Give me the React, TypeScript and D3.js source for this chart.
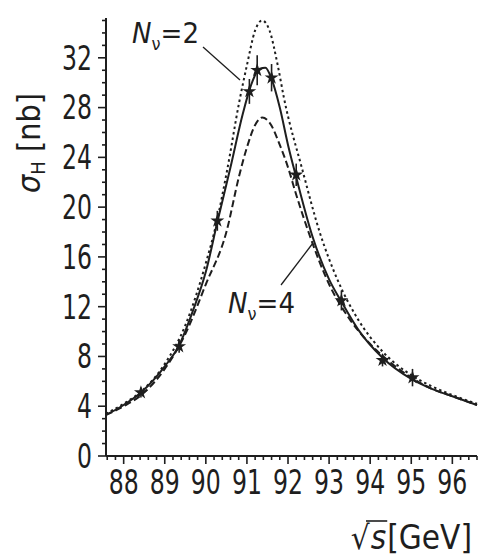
import React, { useEffect, useRef, useState } from "react";
import * as d3 from "d3";

// measured data points (sqrt(s) in GeV, sigma_H in nb)
const dataEnergy = [88.42, 89.35, 90.28, 91.06, 91.25, 91.6, 92.2, 93.3, 94.3, 95.03];
const dataSigma = [5.1, 8.8, 18.9, 29.3, 31.0, 30.4, 22.6, 12.5, 7.7, 6.3];
const dataErr = [0.4, 0.5, 0.8, 1.0, 1.2, 1.1, 0.9, 0.8, 0.5, 0.7];

// theory curve N_nu = 2 (dotted)
const n2Energy = [87.57, 88.0, 88.5, 89.0, 89.5, 90.0, 90.25, 90.52, 90.81, 91.0, 91.2, 91.37, 91.55, 91.75, 91.9, 92.35, 92.77, 93.2, 93.7, 94.3, 95.0, 95.5, 96.0, 96.6];
const n2Sigma = [3.4, 4.2, 5.4, 7.4, 10.5, 15.5, 18.6, 23.0, 28.4, 31.4, 34.2, 35.0, 34.2, 31.4, 28.8, 23.0, 18.0, 14.2, 11.0, 8.4, 6.5, 5.6, 4.9, 4.2];

// theory curve N_nu = 3 (solid)
const n3Energy = [87.57, 88.0, 88.42, 89.0, 89.35, 89.7, 90.0, 90.28, 90.6, 90.9, 91.1, 91.3, 91.45, 91.6, 91.8, 92.0, 92.2, 92.6, 93.0, 93.3, 93.7, 94.3, 95.0, 95.5, 96.0, 96.6];
const n3Sigma = [3.3, 4.1, 5.1, 7.2, 8.9, 11.8, 14.8, 18.8, 23.2, 27.5, 29.8, 31.1, 31.2, 30.3, 28.0, 25.0, 22.4, 17.6, 14.2, 12.4, 10.2, 7.9, 6.2, 5.4, 4.8, 4.1];

// theory curve N_nu = 4 (dashed)
const n4Energy = [87.57, 88.0, 88.5, 89.0, 89.5, 90.0, 90.5, 90.81, 91.0, 91.2, 91.37, 91.55, 91.8, 92.0, 92.2, 92.52, 93.0, 93.5, 94.0, 94.5, 95.0, 95.5, 96.0, 96.6];
const n4Sigma = [3.3, 4.0, 5.1, 7.0, 9.8, 13.8, 18.0, 22.5, 24.8, 26.6, 27.2, 26.8, 25.0, 23.2, 21.0, 17.8, 13.8, 11.0, 9.0, 7.5, 6.3, 5.4, 4.8, 4.1];

const xTickLabels = [88, 89, 90, 91, 92, 93, 94, 95, 96];
const yTickLabels = [0, 4, 8, 12, 16, 20, 24, 28, 32];

const FONT = "'Liberation Sans Narrow', 'DejaVu Sans Condensed', 'Liberation Sans', sans-serif";
const INK = "#1e1e1e";

export default function App() {
  const W = 484;
  const H = 560;
  const x = d3.scaleLinear().domain([87.57, 96.6]).range([106, 477]);
  const y = d3.scaleLinear().domain([0, 35.2]).range([456, 18]);

  const line = (xs: number[], ys: number[]) =>
    d3
      .line<number>()
      .x((_, i) => x(xs[i]))
      .y((v) => y(v))
      .curve(d3.curveMonotoneX)(ys) || "";

  const xMinor = d3.range(0, 46).map((i) => 87.6 + i * 0.2).filter((v) => v <= 96.6);
  const yMinor = d3.range(0, 36);

  const titleRef = useRef<SVGTextElement>(null);
  const [over, setOver] = useState<{ x1: number; x2: number; y: number } | null>(null);
  useEffect(() => {
    const t = titleRef.current;
    if (!t) return;
    try {
      const r0 = t.getExtentOfChar(0);
      const r1 = t.getExtentOfChar(1);
      setOver({ x1: r0.x + r0.width * 0.8, x2: r1.x + r1.width + 1, y: r0.y + 3 });
    } catch (e) {}
  }, []);

  const star = d3.symbol().type(d3.symbolStar).size(60)() || "";

  return (
    <svg
      width={W}
      height={H}
      style={{ position: "absolute", left: 0, top: 0, background: "#fff" }}
      fontFamily={FONT}
    >
      <rect x={0} y={0} width={W} height={H} fill="#fff" />
      {/* axes */}
      <line x1={x.range()[0]} x2={x.range()[0]} y1={y(0)} y2={y.range()[1]} stroke={INK} strokeWidth={2} />
      <line x1={x.range()[0]} x2={x.range()[1]} y1={y(0)} y2={y(0)} stroke={INK} strokeWidth={2} />
      {yMinor.map((v) => (
        <line key={"ym" + v} x1={x.range()[0]} x2={x.range()[0] - (v % 4 === 0 ? 8 : 4)} y1={y(v)} y2={y(v)} stroke={INK} strokeWidth={1.6} />
      ))}
      {xMinor.map((v, i) => (
        <line key={"xm" + i} x1={x(v)} x2={x(v)} y1={y(0)} y2={y(0) + (Math.abs(v - Math.round(v)) < 0.01 ? 8 : 4)} stroke={INK} strokeWidth={1.6} />
      ))}
      {yTickLabels.map((v) => (
        <text
          key={"yl" + v}
          x={x.range()[0] - 14}
          y={y(v)}
          dy="0.36em"
          textAnchor="end"
          fontSize={33}
          fill={INK}
          textLength={String(v).length * 15}
          lengthAdjust="spacingAndGlyphs"
        >
          {v}
        </text>
      ))}
      {xTickLabels.map((v) => (
        <text
          key={"xl" + v}
          x={x(v)}
          y={494}
          textAnchor="middle"
          fontSize={33}
          fill={INK}
          textLength={30}
          lengthAdjust="spacingAndGlyphs"
        >
          {v}
        </text>
      ))}

      {/* axis titles */}
      <text transform="translate(40,143) rotate(-90)" textAnchor="middle" fontSize={32} fill={INK}>
        <tspan fontStyle="italic">σ</tspan>
        <tspan fontSize={20} dy={5}>H</tspan>
        <tspan dy={-5}> [nb]</tspan>
      </text>
      <text ref={titleRef} x={472} y={549} textAnchor="end" fontSize={33} fill={INK}>
        <tspan>√</tspan>
        <tspan fontStyle="italic" dx={1}>s</tspan>
        <tspan dx={1}>[GeV]</tspan>
      </text>
      {over && <line x1={over.x1} x2={over.x2} y1={over.y} y2={over.y} stroke={INK} strokeWidth={1.6} />}

      {/* curves */}
      <path d={line(n2Energy, n2Sigma)} fill="none" stroke={INK} strokeWidth={2} strokeDasharray="2.5,3" />
      <path d={line(n4Energy, n4Sigma)} fill="none" stroke={INK} strokeWidth={2} strokeDasharray="7,3.5" />
      <path d={line(n3Energy, n3Sigma)} fill="none" stroke={INK} strokeWidth={2} />

      {/* data points */}
      {dataEnergy.map((e, i) => (
        <g key={"d" + i}>
          <line x1={x(e)} x2={x(e)} y1={y(dataSigma[i] - dataErr[i])} y2={y(dataSigma[i] + dataErr[i])} stroke={INK} strokeWidth={1.6} />
          <path d={star} transform={`translate(${x(e)},${y(dataSigma[i])})`} fill={INK} />
        </g>
      ))}

      {/* annotations */}
      <line x1={203} y1={47} x2={240} y2={80} stroke={INK} strokeWidth={1.3} />
      <text x={132} y={43} fontSize={29} fill={INK}>
        <tspan fontStyle="italic">N</tspan>
        <tspan fontSize={18} dy={7}>ν</tspan>
        <tspan dy={-7}>=2</tspan>
      </text>
      <line x1={281} y1={285} x2={313} y2={243} stroke={INK} strokeWidth={1.3} />
      <text x={228} y={313} fontSize={29} fill={INK}>
        <tspan fontStyle="italic">N</tspan>
        <tspan fontSize={18} dy={7}>ν</tspan>
        <tspan dy={-7}>=4</tspan>
      </text>
    </svg>
  );
}
